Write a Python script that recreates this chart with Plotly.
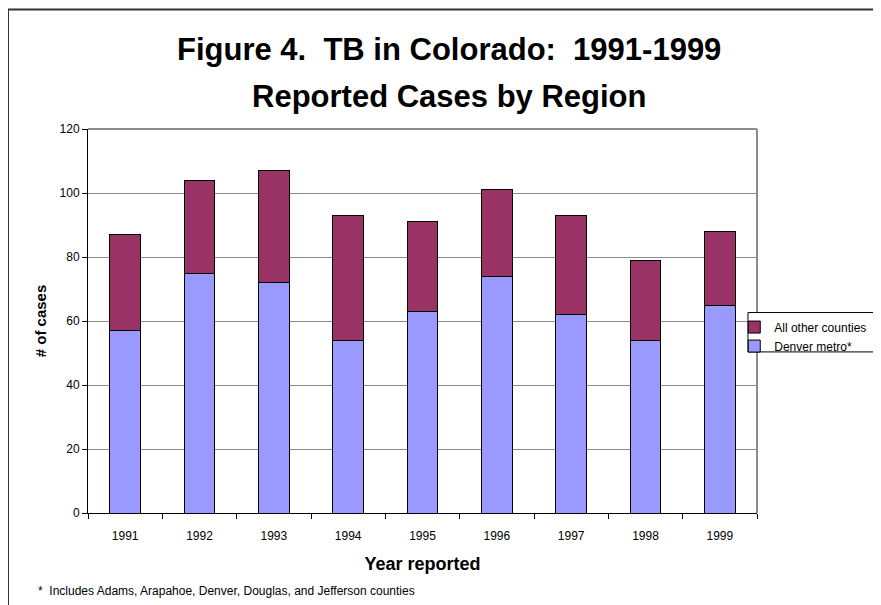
import plotly.graph_objects as go

years = ["1991", "1992", "1993", "1994", "1995", "1996", "1997", "1998", "1999"]
denver_metro = [57, 75, 72, 54, 63, 74, 62, 54, 65]
other_counties = [30, 29, 35, 39, 28, 27, 31, 25, 23]

font = "Liberation Sans, Arial, sans-serif"
nb = "\u00a0"

fig = go.Figure()
fig.add_bar(x=years, y=denver_metro, name="Denver metro*",
            marker=dict(color="#9999FF", line=dict(color="black", width=1)))
fig.add_bar(x=years, y=other_counties, name="All other counties",
            marker=dict(color="#993366", line=dict(color="black", width=1)))

fig.update_layout(
    width=881, height=605,
    barmode="stack", bargap=0.59,
    margin=dict(l=80, r=132, t=121, b=100, autoexpand=False),
    paper_bgcolor="white", plot_bgcolor="white",
    font=dict(family=font, color="black", size=12),
    showlegend=True,
    legend=dict(traceorder="reversed", x=0.966, xanchor="left", y=0.522, yanchor="top",
                borderwidth=0, bgcolor="rgba(0,0,0,0)",
                font=dict(size=12), itemwidth=30, tracegroupgap=0),
)

fig.update_xaxes(
    showline=True, linecolor="black", linewidth=1,
    ticks="outside", tickson="boundaries", ticklen=5, tickcolor="black",
    ticklabelstandoff=12,
    title=dict(text="<b>Year reported</b>", font=dict(size=18), standoff=14),
)
fig.update_yaxes(
    range=[0, 120], dtick=20,
    showline=True, linecolor="black", linewidth=1,
    ticks="outside", ticklen=5, tickcolor="black",
    showgrid=True, gridcolor="#8c8c8c", gridwidth=1,
    zeroline=False,
    title=dict(text="<b># of cases</b>", font=dict(size=15), standoff=9),
)

# title, two lines
fig.add_annotation(text=f"<b>Figure 4.{nb}{nb}TB in Colorado:{nb}{nb}1991-1999</b>",
                   xref="paper", yref="paper", x=0.540, y=1.206,
                   xanchor="center", yanchor="middle", showarrow=False,
                   font=dict(size=31))
fig.add_annotation(text="<b>Reported Cases by Region</b>",
                   xref="paper", yref="paper", x=0.540, y=1.0836,
                   xanchor="center", yanchor="middle", showarrow=False,
                   font=dict(size=31))

# gray frame on the top and right of the plot area
fig.add_shape(type="line", xref="paper", yref="paper", x0=0, x1=1, y0=1, y1=1,
              line=dict(color="#8c8c8c", width=2))
fig.add_shape(type="line", xref="paper", yref="paper", x0=1, x1=1, y0=0, y1=1,
              line=dict(color="#8c8c8c", width=2))
# legend box
fig.add_shape(type="rect", xref="paper", yref="paper",
              x0=0.9865, x1=1.3, y0=0.4195, y1=0.522,
              line=dict(color="black", width=1), fillcolor="white", layer="above")
# outer chart border
fig.add_shape(type="rect", xref="paper", yref="paper",
              x0=-0.1196, x1=1.3, y0=-0.3, y1=1.311,
              line=dict(color="#333333", width=2), layer="below")

fig.add_annotation(text=f"*{nb}{nb}Includes Adams, Arapahoe, Denver, Douglas, and Jefferson counties",
                   xref="paper", yref="paper", x=-0.0777, y=-0.2037,
                   xanchor="left", yanchor="middle", showarrow=False,
                   font=dict(size=12))

fig.write_html("out.html")
